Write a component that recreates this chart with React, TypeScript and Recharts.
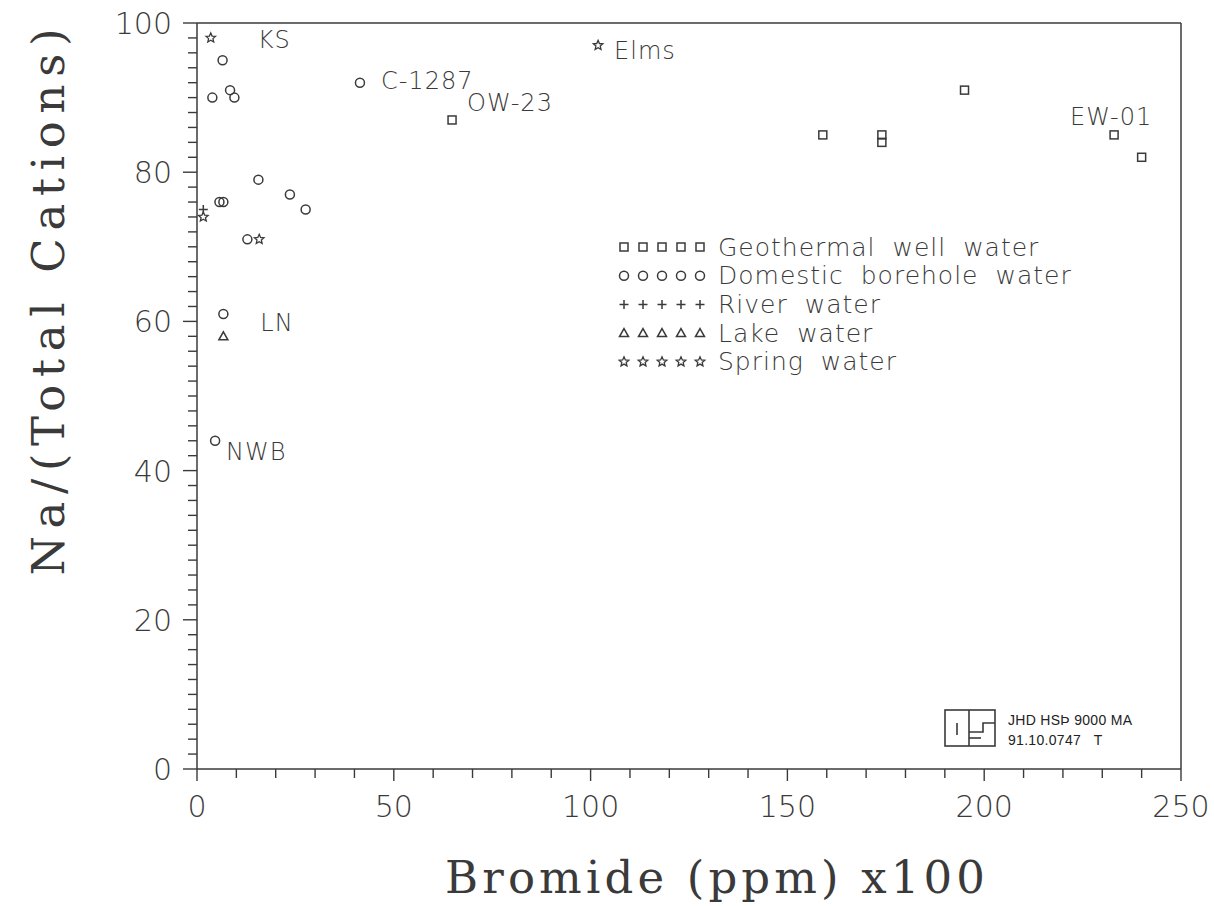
import React from 'react';
import { ScatterChart, Scatter, XAxis, YAxis, ReferenceLine, Legend, Label } from 'recharts';

type Pt = { x: number; y: number; label?: string };
type Kind = 'square' | 'circle' | 'plus' | 'triangle' | 'star';

// values: x = bromide (ppm) x100, y = Na/(total cations) %
const geothermalWell: Pt[] = [
  { x: 64.8, y: 87, label: 'OW-23' },
  { x: 159, y: 85 },
  { x: 174, y: 85 },
  { x: 174, y: 84 },
  { x: 195, y: 91 },
  { x: 233, y: 85, label: 'EW-01' },
  { x: 240, y: 82 },
];

const domesticBorehole: Pt[] = [
  { x: 6.5, y: 95 },
  { x: 3.9, y: 90 },
  { x: 8.4, y: 91 },
  { x: 9.5, y: 90 },
  { x: 15.6, y: 79 },
  { x: 23.6, y: 77 },
  { x: 27.6, y: 75 },
  { x: 5.7, y: 76 },
  { x: 6.7, y: 76 },
  { x: 12.8, y: 71 },
  { x: 6.7, y: 61 },
  { x: 4.6, y: 44, label: 'NWB' },
  { x: 41.4, y: 92, label: 'C-1287' },
];

const riverWater: Pt[] = [{ x: 1.6, y: 75 }];

const lakeWater: Pt[] = [{ x: 6.7, y: 58, label: 'LN' }];

const springWater: Pt[] = [
  { x: 3.5, y: 98, label: 'KS' },
  { x: 101.9, y: 97, label: 'Elms' },
  { x: 1.6, y: 74 },
  { x: 15.8, y: 71 },
];

const seriesNames = [
  'Geothermal well water',
  'Domestic borehole water',
  'River water',
  'Lake water',
  'Spring water',
];
const seriesKinds: Kind[] = ['square', 'circle', 'plus', 'triangle', 'star'];

const xTicks = Array.from({ length: 26 }, (_, i) => i * 10);
const yTicks = Array.from({ length: 51 }, (_, i) => i * 2);

// where each point label sits relative to its marker (text start, text middle)
const labelOffsets: Record<string, [number, number]> = {
  KS: [47, 2],
  'C-1287': [21, -2],
  'OW-23': [15, -17],
  Elms: [16, 6],
  'EW-01': [-44, -18],
  LN: [37, -13],
  NWB: [11, 11],
};

const INK = '#3a3a3a';
const SANS = '"DejaVu Sans", "Liberation Sans", sans-serif';
const SERIF = '"DejaVu Serif", "Liberation Serif", serif';

function Symbol({ kind, cx, cy }: { kind: Kind; cx: number; cy: number }) {
  const s = { stroke: INK, strokeWidth: 1.5, fill: 'none' };
  switch (kind) {
    case 'square':
      return <rect x={cx - 4} y={cy - 4} width={8} height={8} {...s} />;
    case 'circle':
      return <circle cx={cx} cy={cy} r={4.5} {...s} />;
    case 'plus':
      return (
        <path d={`M${cx - 4.5},${cy}H${cx + 4.5}M${cx},${cy - 4.5}V${cy + 4.5}`} {...s} />
      );
    case 'triangle':
      return (
        <polygon
          points={`${cx},${cy - 4.5} ${cx + 4.5},${cy + 3.5} ${cx - 4.5},${cy + 3.5}`}
          {...s}
        />
      );
    case 'star': {
      const pts: string[] = [];
      for (let i = 0; i < 10; i++) {
        const r = i % 2 === 0 ? 5 : 2.3;
        const a = -Math.PI / 2 + (i * Math.PI) / 5;
        pts.push(`${cx + r * Math.cos(a)},${cy + r * Math.sin(a)}`);
      }
      return <polygon points={pts.join(' ')} {...s} strokeWidth={1.3} />;
    }
  }
  return null;
}

const makeShape = (kind: Kind) => (props: any) => {
  const { cx, cy, payload } = props;
  const off = payload && payload.label ? labelOffsets[payload.label] : null;
  return (
    <g>
      <Symbol kind={kind} cx={cx} cy={cy} />
      {off && (
        <text
          x={cx + off[0]}
          y={cy + off[1]}
          dominantBaseline="central"
          fontFamily={SANS}
          fontWeight={300}
          fontSize={24}
          letterSpacing={1}
          fill={INK}
        >
          {payload.label}
        </text>
      )}
    </g>
  );
};

const XTick = (props: any) => {
  const { x, y, payload } = props;
  const v = payload.value;
  const major = v % 50 === 0;
  return (
    <g>
      <line x1={x} x2={x} y1={y} y2={y + (major ? 12 : 9)} stroke={INK} strokeWidth={1.4} />
      {major && (
        <text
          x={x}
          y={y + 48}
          textAnchor="middle"
          fontFamily={SANS}
          fontWeight={300}
          fontSize={30}
          fill={INK}
        >
          {v}
        </text>
      )}
    </g>
  );
};

const YTick = (props: any) => {
  const { x, y, payload } = props;
  const v = payload.value;
  const major = v % 20 === 0;
  return (
    <g>
      <line x1={x - (major ? 14 : 9)} x2={x} y1={y} y2={y} stroke={INK} strokeWidth={1.4} />
      {major && (
        <text
          x={x - 25}
          y={y + 11}
          textAnchor="end"
          fontFamily={SANS}
          fontWeight={300}
          fontSize={30}
          fill={INK}
        >
          {v}
        </text>
      )}
    </g>
  );
};

const LegendBox = () => (
  <svg width={480} height={150} style={{ display: 'block' }}>
    {seriesNames.map((name, i) => {
      const cy = 15 + i * 28.7;
      return (
        <g key={name}>
          {[0, 1, 2, 3, 4].map((j) => (
            <Symbol key={j} kind={seriesKinds[i]} cx={12 + j * 19} cy={cy} />
          ))}
          <text
            x={106}
            y={cy}
            dominantBaseline="central"
            fontFamily={SANS}
            fontWeight={300}
            fontSize={25}
            letterSpacing={1}
            wordSpacing={8}
            fill={INK}
          >
            {name}
          </text>
        </g>
      );
    })}
  </svg>
);

const Stamp = () => (
  <div style={{ position: 'absolute', left: 944, top: 708 }}>
    <svg width={220} height={45}>
      <g stroke={INK} strokeWidth={1.6} fill="none">
        <rect x={1} y={2} width={50} height={36} />
        <line x1={25} y1={2} x2={25} y2={38} />
        <line x1={13} y1={15} x2={13} y2={27} />
        <path d="M51,15 H39 V24 H25" />
        <path d="M25,30 H37" />
      </g>
      <text
        x={64}
        y={17}
        fontFamily='"Liberation Sans", Arial, sans-serif'
        fontSize={14}
        letterSpacing={0.3}
        fill="#222"
      >
        JHD HSÞ 9000 MA
      </text>
      <text
        x={64}
        y={37}
        fontFamily='"Liberation Sans", Arial, sans-serif'
        fontSize={14}
        letterSpacing={0.3}
        fill="#222"
      >
        91.10.0747{'\u00a0\u00a0\u00a0'}T
      </text>
    </svg>
  </div>
);

export default function App() {
  const series: [Pt[], number][] = [
    [geothermalWell, 0],
    [domesticBorehole, 1],
    [riverWater, 2],
    [lakeWater, 3],
    [springWater, 4],
  ];
  return (
    <div style={{ position: 'absolute', left: 0, top: 0, width: 1214, height: 906, background: '#fff' }}>
      <ScatterChart
        width={1214}
        height={906}
        margin={{ top: 23, right: 33, left: 97, bottom: 77 }}
      >
        <XAxis
          type="number"
          dataKey="x"
          domain={[0, 250]}
          ticks={xTicks}
          interval={0}
          tickSize={0}
          tickMargin={0}
          tickLine={false}
          height={60}
          tick={<XTick />}
          axisLine={{ stroke: INK, strokeWidth: 1.5 }}
          allowDataOverflow
        >
          <Label
            content={(p: any) => {
              const vb = p.viewBox;
              return (
                <text
                  x={vb.x + vb.width / 2 + 26}
                  y={vb.y + 124}
                  textAnchor="middle"
                  textLength={540}
                  lengthAdjust="spacing"
                  fontFamily={SERIF}
                  fontSize={45}
                  fill={INK}
                >
                  Bromide (ppm) x100
                </text>
              );
            }}
          />
        </XAxis>
        <YAxis
          type="number"
          dataKey="y"
          domain={[0, 100]}
          ticks={yTicks}
          interval={0}
          tickSize={0}
          tickMargin={0}
          tickLine={false}
          width={100}
          tick={<YTick />}
          axisLine={{ stroke: INK, strokeWidth: 1.5 }}
          allowDataOverflow
        >
          <Label
            content={(p: any) => {
              const vb = p.viewBox;
              const cx = vb.x - 49;
              const cy = vb.y + 279;
              return (
                <text
                  x={cx}
                  y={cy}
                  transform={`rotate(-90 ${cx} ${cy})`}
                  textAnchor="middle"
                  dominantBaseline="central"
                  textLength={547}
                  lengthAdjust="spacing"
                  fontFamily={SERIF}
                  fontSize={45}
                  fill={INK}
                >
                  Na/(Total Cations)
                </text>
              );
            }}
          />
        </YAxis>
        <ReferenceLine y={100} stroke={INK} strokeWidth={1.5} />
        <ReferenceLine x={250} stroke={INK} strokeWidth={1.5} />
        {series.map(([data, i]) => (
          <Scatter
            key={seriesNames[i]}
            name={seriesNames[i]}
            data={data}
            shape={makeShape(seriesKinds[i])}
            isAnimationActive={false}
          />
        ))}
        <Legend
          layout="vertical"
          align="center"
          verticalAlign="middle"
          content={LegendBox}
          wrapperStyle={{ left: 612, top: 232, width: 480, height: 150 }}
        />
      </ScatterChart>
      <Stamp />
    </div>
  );
}
